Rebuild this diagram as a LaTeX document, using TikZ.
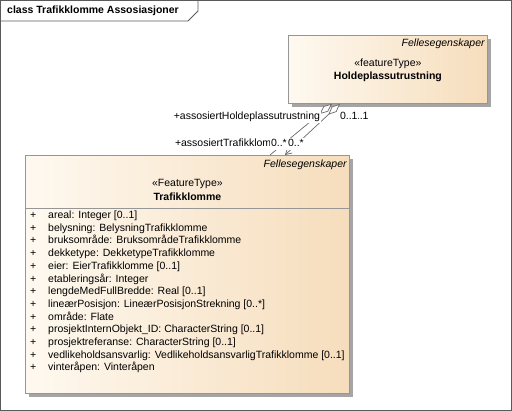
\documentclass[tikz,border=0pt]{standalone}
\usepackage{fontspec}
\setmainfont{Liberation Sans}
\usetikzlibrary{arrows.meta, positioning, shadows}
\usepackage{xcolor}
\definecolor{boxleft}{RGB}{254,249,240}
\definecolor{boxright}{RGB}{246,221,188}
\definecolor{boxline}{RGB}{150,150,150}
\definecolor{shadowgray}{RGB}{165,165,165}
\definecolor{linkgray}{RGB}{105,105,105}
\definecolor{framegray}{RGB}{90,90,90}

\begin{document}
\begin{tikzpicture}[x=1pt, y=-1pt,
    font=\fontsize{10.5}{12}\selectfont,
    classbox/.style={draw=boxline, line width=0.8pt, left color=boxleft, right color=boxright, anchor=north west, inner sep=0pt,
        drop shadow={shadow xshift=4pt, shadow yshift=-4pt, fill=shadowgray, opacity=1}},
    stereo/.style={inner sep=0pt},
    classname/.style={inner sep=0pt, font=\fontsize{10.5}{12}\selectfont\bfseries},
    propname/.style={inner sep=0pt, anchor=east, font=\fontsize{10.5}{12}\selectfont\itshape},
    attrtext/.style={inner sep=0pt, anchor=west, text height=7.8pt, text depth=2.6pt},
    rolelabel/.style={fill=white, inner sep=0.8pt, text height=7.8pt, text depth=2.6pt},
    assoc/.style={draw=linkgray, line width=0.7pt}
]
\useasboundingbox (0,0) rectangle (512,411);

% Frame and title tab
\draw[framegray, line width=0.8pt] (0.5,0.5) rectangle (511.5,410.5);
\draw[framegray, line width=0.8pt] (0.5,21) -- (188,21) -- (198,11) -- (198,0.5);
\node[classname, anchor=west] (frametitle) at (7,11) {class Trafikklomme Assosiasjoner};

% Classes
\node[classbox, minimum width=199pt, minimum height=68pt] (hold) at (288,35) {};
\node[propname] (holdprop) at ([xshift=-3pt, yshift=-9pt]hold.north east) {Fellesegenskaper};
\node[stereo] (holdstereo) at ([yshift=-29pt]hold.north) {«featureType»};
\node[classname] (holdname) at ([yshift=-42pt]hold.north) {Holdeplassutrustning};

\node[classbox, minimum width=324pt, minimum height=238pt] (trafikk) at (25,155) {};
\node[propname] (trafikkprop) at ([xshift=-3pt, yshift=-10pt]trafikk.north east) {Fellesegenskaper};
\node[stereo] (trafikkstereo) at ([yshift=-29pt]trafikk.north) {«FeatureType»};
\node[classname] (trafikkname) at ([yshift=-42pt]trafikk.north) {Trafikklomme};
\draw[boxline, line width=0.8pt] ([yshift=-53pt]trafikk.north west) -- ([yshift=-53pt]trafikk.north east);

% Attributes
\foreach \attr [count=\i from 0] in {
    areal: Integer [0..1],
    belysning: BelysningTrafikklomme,
    bruksområde: BruksområdeTrafikklomme,
    dekketype: DekketypeTrafikklomme,
    eier: EierTrafikklomme [0..1],
    etableringsår: Integer,
    lengdeMedFullBredde: Real [0..1],
    lineærPosisjon: LineærPosisjonStrekning [0..*],
    område: Flate,
    prosjektInternObjekt\_ID: CharacterString [0..1],
    prosjektreferanse: CharacterString [0..1],
    vedlikeholdsansvarlig: VedlikeholdsansvarligTrafikklomme [0..1],
    vinteråpen: Vinteråpen} {
  \node[attrtext] (plus\i) at ([xshift=5pt, yshift={-61pt-12.69pt*\i}]trafikk.north west) {+};
  \node[attrtext] (attr\i) at ([xshift=23pt, yshift={-61pt-12.69pt*\i}]trafikk.north west) {\attr};
}

% Associations
\coordinate (holdA) at ([xshift=44pt]hold.south west);
\coordinate (holdB) at ([xshift=52pt]hold.south west);
\coordinate (trafikkA) at ([xshift=245pt]trafikk.north west);
\coordinate (trafikkB) at ([xshift=260pt]trafikk.north west);
\draw[assoc, {Diamond[length=16pt, width=7pt, fill=white]}-] (holdA) -- (trafikkA);
\draw[assoc, {Diamond[length=16pt, width=7pt, fill=white]}-{Straight Barb[length=6pt, width=7pt]}] (holdB) -- (trafikkB);

% Role names and multiplicities
\node[rolelabel, anchor=east] (roleHold) at (321,117) {+assosiertHoldeplassutrustning};
\node[rolelabel, anchor=west] (multHold2) at (350,117) {0..1};
\node[rolelabel, anchor=west] (multHold1) at (339,117) {0..1};
\node[rolelabel, anchor=west] (roleTrafikk) at (174,144) {+assosiertTrafikklomme};
\node[rolelabel, anchor=west] (multTrafikk2) at (287,144) {0..*};
\node[rolelabel, anchor=west] (multTrafikk1) at (270,144) {0..*};

\end{tikzpicture}
\end{document}
